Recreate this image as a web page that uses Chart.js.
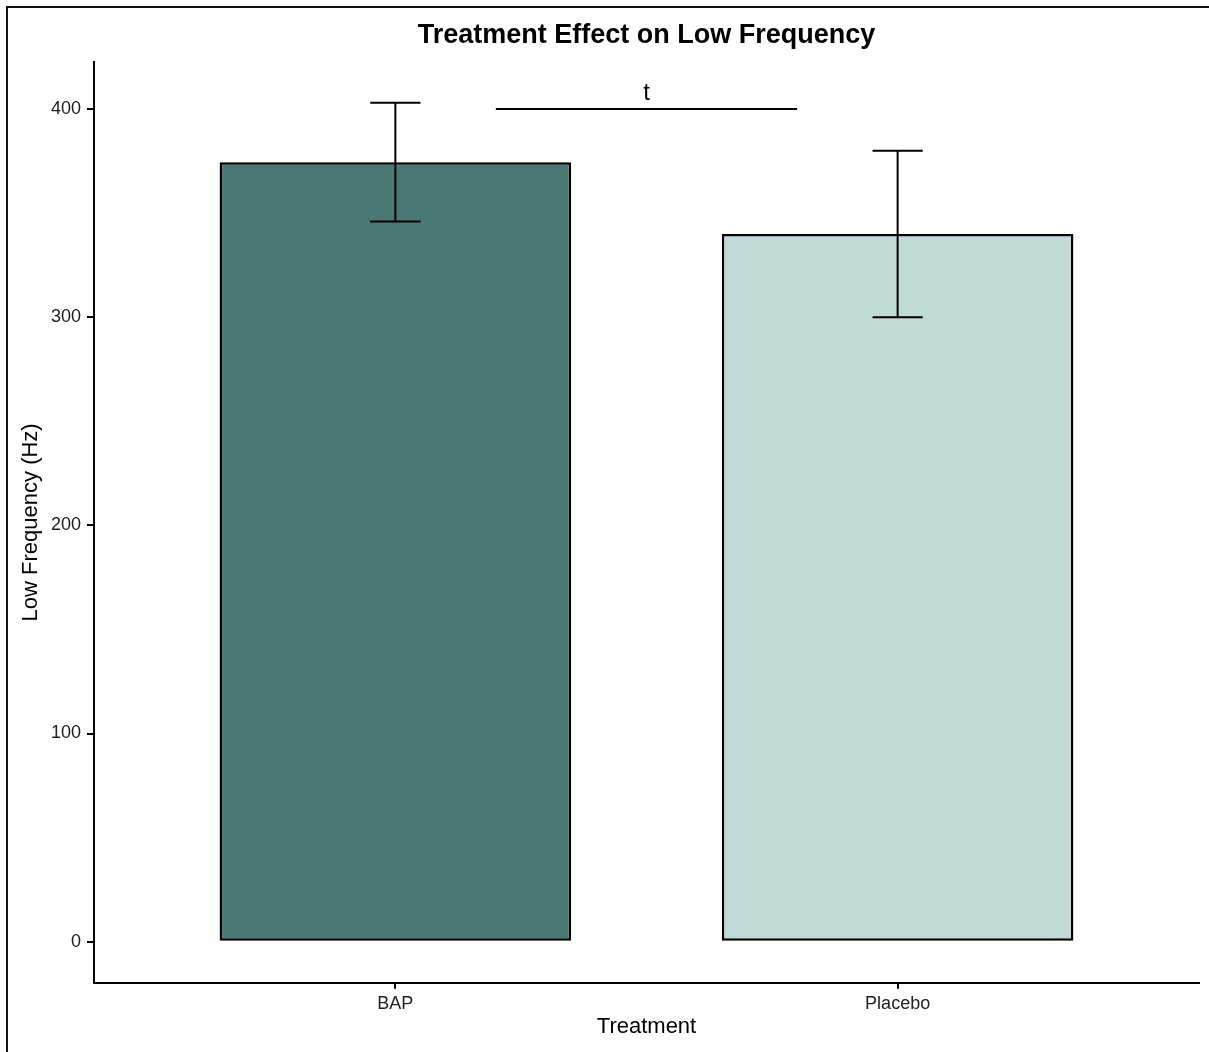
<!DOCTYPE html>
<html>
<head>
<meta charset="utf-8">
<script src="https://cdn.jsdelivr.net/npm/chart.js@4.4.0/dist/chart.umd.min.js"></script>
<style>
html,body{margin:0;padding:0;background:#fff;overflow:hidden}
#wrap{position:relative;width:1209px;height:1052px}
#frame{position:absolute;left:6px;top:6px;width:1230px;height:1080px;border:2px solid #111;pointer-events:none}
canvas{display:block}
</style>
</head>
<body>
<div id="wrap"><canvas id="c" width="1209" height="1052"></canvas><div id="frame"></div></div>
<script>
// ---- data ----
const categories = ['BAP', 'Placebo'];
const categoryPositions = [1, 2];
const meanValues = [374.5, 340];
const errorLow = [346, 300];
const errorHigh = [403, 380];
const barColors = ['#4a7875', '#c0dad7'];
const yTickValues = [0, 100, 200, 300, 400];
const sigStart = [1.2];
const sigEnd = [1.8];
const sigLevel = [400];
const sigLabels = ['t'];

// ---- config ----
const FONT = '"Liberation Sans", Arial, Helvetica, sans-serif';
const X_MIN = 0.4, X_MAX = 2.6;
const Y_MIN = -19.7, Y_MAX = 422.6;
const CAP_WIDTH = 0.1;

const annotationPlugin = {
  id: 'annotations',
  afterDatasetsDraw(chart) {
    const { ctx, scales: { x, y } } = chart;
    ctx.save();
    ctx.strokeStyle = '#000';
    ctx.lineWidth = 2;
    ctx.lineCap = 'butt';
    categoryPositions.forEach((p, i) => {
      const cx = x.getPixelForValue(p);
      const xl = x.getPixelForValue(p - CAP_WIDTH / 2);
      const xr = x.getPixelForValue(p + CAP_WIDTH / 2);
      const yl = y.getPixelForValue(errorLow[i]);
      const yh = y.getPixelForValue(errorHigh[i]);
      ctx.beginPath();
      ctx.moveTo(cx, yl); ctx.lineTo(cx, yh);
      ctx.moveTo(xl, yl); ctx.lineTo(xr, yl);
      ctx.moveTo(xl, yh); ctx.lineTo(xr, yh);
      ctx.stroke();
    });
    sigStart.forEach((s, i) => {
      const x1 = x.getPixelForValue(s);
      const x2 = x.getPixelForValue(sigEnd[i]);
      const yy = y.getPixelForValue(sigLevel[i]);
      ctx.beginPath();
      ctx.moveTo(x1, yy); ctx.lineTo(x2, yy);
      ctx.stroke();
      ctx.fillStyle = '#000';
      ctx.font = '24px ' + FONT;
      ctx.textAlign = 'center';
      ctx.textBaseline = 'alphabetic';
      ctx.fillText(sigLabels[i], (x1 + x2) / 2, yy - 9);
    });
    ctx.restore();
  }
};

new Chart(document.getElementById('c'), {
  type: 'bar',
  data: {
    datasets: [{
      data: categoryPositions.map((p, i) => ({ x: p, y: meanValues[i] })),
      backgroundColor: barColors,
      borderColor: '#000',
      borderWidth: 2.5,
      borderSkipped: false,
      barPercentage: 0.7,
      categoryPercentage: 1.0
    }]
  },
  options: {
    responsive: false,
    animation: false,
    devicePixelRatio: 1,
    layout: { padding: { left: 0, right: 10, top: 0, bottom: 0 } },
    plugins: {
      legend: { display: false },
      tooltip: { enabled: false },
      title: {
        display: true,
        text: 'Treatment Effect on Low Frequency',
        fullSize: false,
        color: '#000',
        font: { family: FONT, size: 27, weight: 'bold' },
        padding: { top: 19.8, bottom: 9.8 }
      }
    },
    scales: {
      x: {
        type: 'linear',
        min: X_MIN,
        max: X_MAX,
        offset: false,
        afterFit(scale) { scale.height = 69.3; },
        afterBuildTicks(scale) { scale.ticks = categoryPositions.map(v => ({ value: v })); },
        ticks: {
          color: '#222',
          font: { family: FONT, size: 18 },
          padding: 5,
          maxRotation: 0,
          autoSkip: false,
          callback(value) {
            const idx = categoryPositions.indexOf(value);
            return idx >= 0 ? categories[idx] : '';
          }
        },
        grid: { display: true, offset: false, drawOnChartArea: false, drawTicks: true, tickLength: 6, color: '#000', lineWidth: 2 },
        border: { display: true, color: '#000', width: 2 },
        title: {
          display: true,
          text: 'Treatment',
          color: '#000',
          font: { family: FONT, size: 22 },
          padding: { top: 0, bottom: 12 }
        }
      },
      y: {
        type: 'linear',
        min: Y_MIN,
        max: Y_MAX,
        afterFit(scale) { scale.width = 94; },
        afterBuildTicks(scale) { scale.ticks = yTickValues.map(v => ({ value: v })); },
        ticks: {
          color: '#222',
          font: { family: FONT, size: 18 },
          padding: 6
        },
        grid: { display: true, offset: false, drawOnChartArea: false, drawTicks: true, tickLength: 7, color: '#000', lineWidth: 2 },
        border: { display: true, color: '#000', width: 2 },
        title: {
          display: true,
          text: 'Low Frequency (Hz)',
          color: '#000',
          font: { family: FONT, size: 22 },
          padding: { top: 18, bottom: 0 }
        }
      }
    }
  },
  plugins: [annotationPlugin]
});
</script>
</body>
</html>
